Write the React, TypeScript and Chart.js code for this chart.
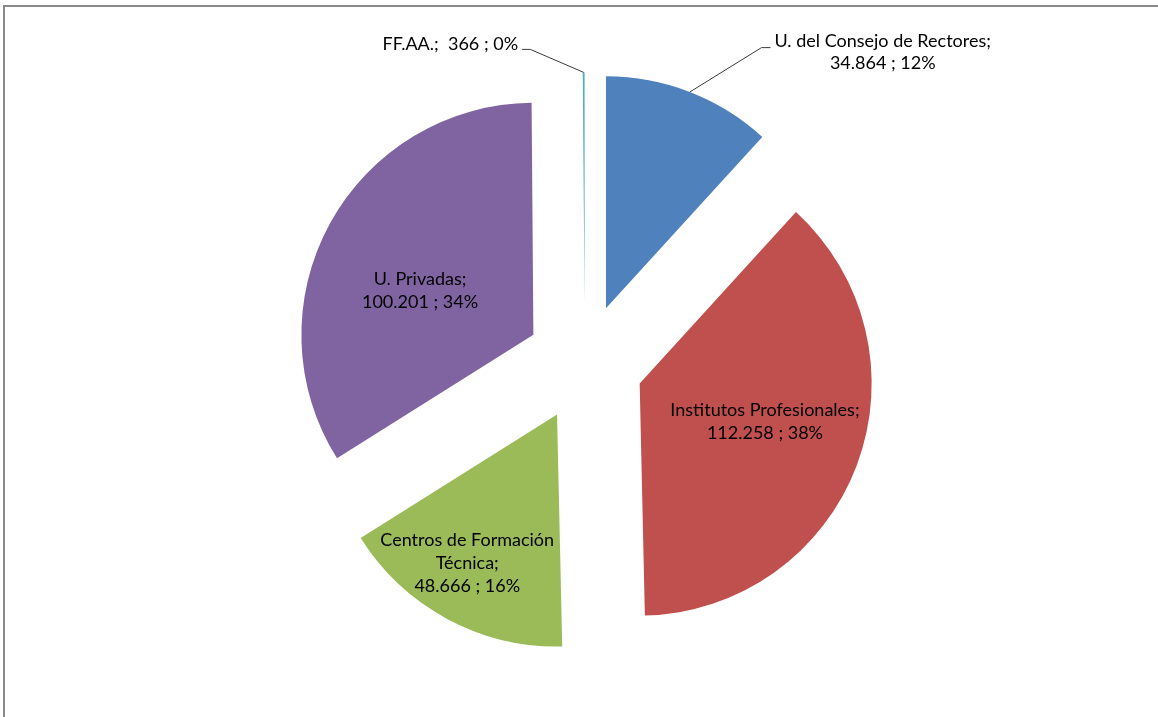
import React, { useEffect, useRef } from "react";
import { Chart, registerables } from "chart.js";

Chart.register(...registerables);

// ---- data ----
const categories = [
  "U. del Consejo de Rectores",
  "Institutos Profesionales",
  "Centros de Formación\nTécnica",
  "U. Privadas",
  "FF.AA.",
];
const values = [34864, 112258, 48666, 100201, 366];
const colors = ["#4F81BD", "#C0504D", "#9BBB59", "#8064A2", "#4BACC6"];

// ---- styling ----
const EXPLODE = 58.6;
const RADIUS = 232;
const FONT_SIZE = 18;
const FONT_FAMILY = "Lato, 'Liberation Sans', sans-serif";
const LINE_H = 23;

type Place =
  | { kind: "in"; r: number; da: number }
  | { kind: "out"; ex: number; ey: number; tick: number; oneLine: boolean };

const placements: Place[] = [
  { kind: "out", ex: 71.7, ey: -44.4, tick: 9, oneLine: false },
  { kind: "in", r: 0.564, da: -3.8 },
  { kind: "in", r: 0.75, da: 2.8 },
  { kind: "in", r: 0.524, da: -7.5 },
  { kind: "out", ex: -53.3, ey: -23, tick: -8.3, oneLine: true },
];

const fmt = (n: number) => String(n).replace(/\B(?=(\d{3})+(?!\d))/g, ".");

const explodePlugin = {
  id: "explode",
  beforeDatasetsDraw(chart: any) {
    const { chartArea } = chart;
    const cx = (chartArea.left + chartArea.right) / 2;
    const cy = (chartArea.top + chartArea.bottom) / 2;
    const meta = chart.getDatasetMeta(0);
    meta.data.forEach((arc: any) => {
      const mid = (arc.startAngle + arc.endAngle) / 2;
      arc.x = cx + Math.cos(mid) * EXPLODE;
      arc.y = cy + Math.sin(mid) * EXPLODE;
    });
  },
};

const labelPlugin = {
  id: "sliceLabels",
  afterDatasetsDraw(chart: any) {
    const ctx: CanvasRenderingContext2D = chart.ctx;
    const meta = chart.getDatasetMeta(0);
    const data: number[] = chart.data.datasets[0].data;
    const labels: string[] = chart.data.labels;
    const total = data.reduce((a, b) => a + b, 0);
    ctx.save();
    ctx.font = `${FONT_SIZE}px ${FONT_FAMILY}`;
    ctx.fillStyle = "#000";
    ctx.textBaseline = "middle";
    meta.data.forEach((arc: any, i: number) => {
      const p = placements[i];
      const pct = Math.round((data[i] / total) * 100) + "%";
      const catLines = labels[i].split("\n");
      const valueText = `${fmt(data[i])} ; ${pct}`;
      const mid = (arc.startAngle + arc.endAngle) / 2;
      const R = arc.outerRadius;
      if (p.kind === "in") {
        const lines = [...catLines.slice(0, -1), catLines[catLines.length - 1] + ";", valueText];
        const a = mid + (p.da * Math.PI) / 180;
        const lx = arc.x + Math.cos(a) * p.r * R;
        const ly = arc.y + Math.sin(a) * p.r * R;
        ctx.textAlign = "center";
        const y0 = ly - ((lines.length - 1) * LINE_H) / 2;
        lines.forEach((t, k) => ctx.fillText(t, lx, y0 + k * LINE_H));
      } else {
        const px = arc.x + Math.cos(mid) * R;
        const py = arc.y + Math.sin(mid) * R;
        const ex = px + p.ex;
        const ey = py + p.ey;
        const tx = ex + p.tick;
        ctx.save();
        ctx.strokeStyle = "#3a3a3a";
        ctx.lineWidth = 1;
        ctx.beginPath();
        ctx.moveTo(px, py);
        ctx.lineTo(ex, ey);
        ctx.lineTo(tx, ey);
        ctx.stroke();
        ctx.restore();
        if (p.oneLine) {
          const text = `${catLines.join(" ")};  ${valueText}`;
          ctx.textAlign = p.tick < 0 ? "right" : "left";
          ctx.fillText(text, tx + (p.tick < 0 ? -4 : 4), ey - 5.5);
        } else {
          const lines = [...catLines.slice(0, -1), catLines[catLines.length - 1] + ";", valueText];
          const w = Math.max(...lines.map((t) => ctx.measureText(t).width));
          const centerX = p.tick < 0 ? tx - 4 - w / 2 : tx + 4 + w / 2;
          ctx.textAlign = "center";
          lines.forEach((t, k) => ctx.fillText(t, centerX, ey - 6 + k * 21.5));
        }
      }
    });
    ctx.restore();
  },
};

export default function App() {
  const ref = useRef<HTMLCanvasElement | null>(null);
  useEffect(() => {
    if (!ref.current) return;
    const chart = new Chart(ref.current, {
      type: "pie",
      data: {
        labels: categories,
        datasets: [
          {
            data: values,
            backgroundColor: colors,
            borderWidth: 0,
            radius: RADIUS,
          } as any,
        ],
      },
      options: {
        animation: false,
        responsive: true,
        maintainAspectRatio: false,
        events: [],
        layout: { padding: { left: 11.6, top: 9, right: 0, bottom: 0 } },
        plugins: {
          legend: { display: false },
          tooltip: { enabled: false },
          title: { display: false },
        },
      } as any,
      plugins: [explodePlugin, labelPlugin],
    });
    return () => chart.destroy();
  }, []);
  return (
    <div
      style={{
        position: "fixed",
        left: 0,
        top: 0,
        width: 1158,
        height: 717,
        overflow: "hidden",
        background: "#fff",
      }}
    >
      <div
        style={{
          position: "absolute",
          left: 3,
          top: 5,
          width: 1300,
          height: 900,
          border: "2px solid #8a8a8a",
          boxSizing: "border-box",
        }}
      />
      <div style={{ position: "absolute", left: 0, top: 0, width: 1158, height: 717 }}>
        <canvas ref={ref} />
      </div>
    </div>
  );
}
